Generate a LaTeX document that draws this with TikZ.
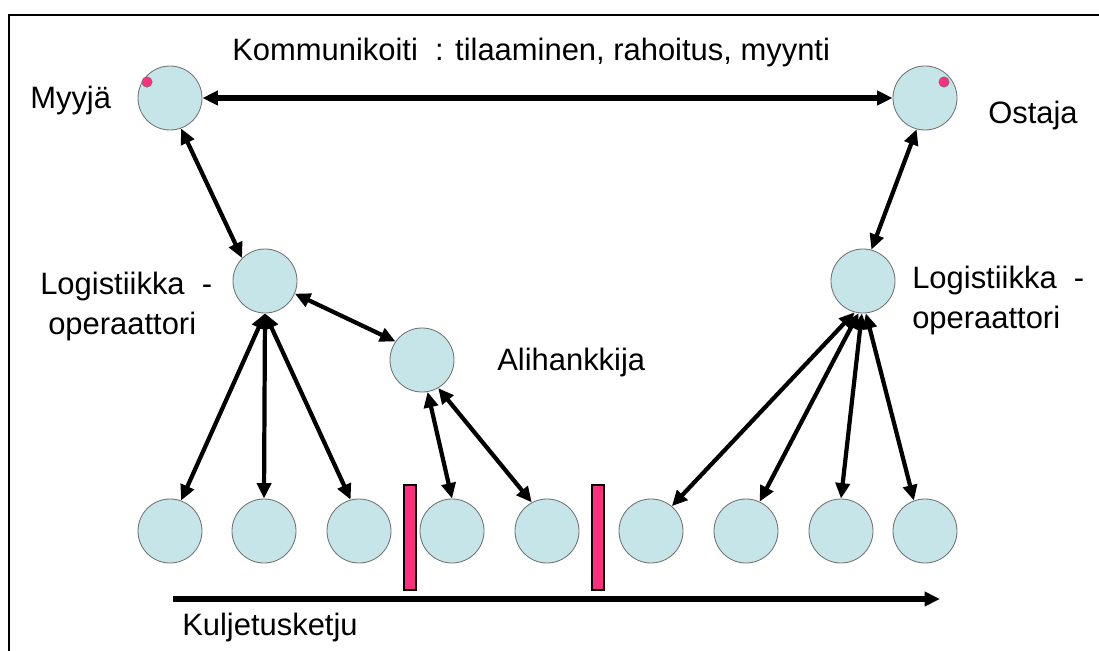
\documentclass[tikz,border=0pt]{standalone}
\usepackage{fontspec}
\setmainfont{Liberation Sans}
\usepackage{tikz}
\usetikzlibrary{arrows.meta}

\definecolor{solmu}{HTML}{C6E5E9}
\definecolor{reuna}{HTML}{707070}
\definecolor{pinkki}{HTML}{FF2E7E}

\begin{document}
\begin{tikzpicture}[
                    x=0.025cm, y=-0.025cm,
                    asema/.style={circle, draw=reuna, fill=solmu, line width=0.6pt, minimum size=1.6cm, inner sep=0pt},
                    nuoli/.style={line width=3pt, {Triangle[length=11pt,width=10pt]}-{Triangle[length=11pt,width=10pt]}},
                    paksu/.style={line width=4.2pt, {Triangle[length=11pt,width=10pt]}-{Triangle[length=11pt,width=10pt]}},
                    teksti/.style={inner sep=0pt, font=\fontsize{22}{28.4}\selectfont},
                    palkki/.style={draw=black, fill=pinkki, line width=1pt}
                ]
                  \useasboundingbox (0,0) rectangle (1099,651);
                  \draw[line width=1.6pt] (9,651) -- (9,15) -- (1099,15);

                  % ylarivi
                  \node[asema] (myyja) at (170,98) {};
                  \node[asema] (ostaja) at (925,98) {};
                  \fill[pinkki, draw=reuna, line width=0.4pt] (147,82) circle (0.13cm);
                  \fill[pinkki, draw=reuna, line width=0.4pt] (944,82) circle (0.13cm);

                  % keskirivi
                  \node[asema] (logL) at (265,281) {};
                  \node[asema] (logR) at (863,281) {};
                  \node[asema] (ali) at (422,360) {};

                  % alarivi
                  \node[asema] (b1) at (170,531) {};
                  \node[asema] (b2) at (264,531) {};
                  \node[asema] (b3) at (359,531) {};
                  \node[asema] (b4) at (452,531) {};
                  \node[asema] (b5) at (547,531) {};
                  \node[asema] (b6) at (651,531) {};
                  \node[asema] (b7) at (746,531) {};
                  \node[asema] (b8) at (841,531) {};
                  \node[asema] (b9) at (925,531) {};

                  \draw[palkki] (404,485) rectangle (416,590);
                  \draw[palkki] (592,485) rectangle (604,590);

                  % tekstit
                  \node[teksti, anchor=base west] (komm) at (232,60) {Kommunikoiti\ \ : tilaaminen, rahoitus, myynti};
                  \node[teksti, anchor=base west] (myyjateksti) at (30,108) {Myyjä};
                  \node[teksti, anchor=base west] (ostajateksti) at (988,123) {Ostaja};
                  \node[teksti, anchor=base west] (logLteksti1) at (40,294) {Logistiikka\ \ -};
                  \node[teksti, anchor=base west] (logLteksti2) at (48,334) {operaattori};
                  \node[teksti, anchor=base west] (logRteksti1) at (912,288) {Logistiikka\ \ -};
                  \node[teksti, anchor=base west] (logRteksti2) at (912,328) {operaattori};
                  \node[teksti, anchor=base west] (aliteksti) at (497,370) {Alihankkija};
                  \node[teksti, anchor=base west] (kuljteksti) at (182,635) {Kuljetusketju};

                  % nuolet
                  \draw[paksu] (myyja.east) -- (ostaja.west);
                  \draw[nuoli] (myyja.290) -- (logL.135);
                  \draw[nuoli] (ostaja.255) -- (logR.75);
                  \draw[nuoli] (logL.337) -- (ali.145);
                  \draw[nuoli] (logL.south) -- (b1.70);
                  \draw[nuoli] (logL.south) -- (b2.north);
                  \draw[nuoli] (logL.south) -- (b3.105);
                  \draw[nuoli] (ali.280) -- (b4.north);
                  \draw[nuoli] (ali.300) -- (b5.118);
                  \draw[nuoli] (logR.255) -- (b6.50);
                  \draw[nuoli] (logR.262) -- (b7.65);
                  \draw[nuoli] (logR.268) -- (b8.north);
                  \draw[nuoli] (logR.275) -- (b9.110);

                  \coordinate (ketjuA) at (173,599);
                  \coordinate (ketjuB) at (940,599);
                  \draw[line width=4.2pt, -{Triangle[length=11pt,width=10pt]}] (ketjuA) -- (ketjuB);
                \end{tikzpicture}
\end{document}
